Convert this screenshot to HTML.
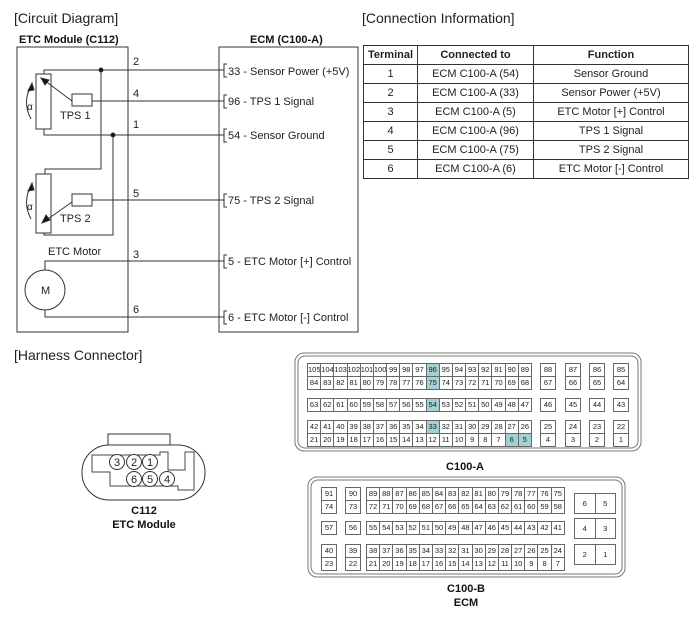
<!DOCTYPE html>
<html><head><meta charset="utf-8"><style>
body{margin:0;background:#fff;}
#w{position:relative;width:699px;height:617px;overflow:hidden;font-family:"Liberation Sans",sans-serif;color:#222;}
svg{position:absolute;left:0;top:0;}
table.g{position:absolute;border-collapse:collapse;table-layout:fixed;font-size:7.5px;background:#fff;}
table.g td{border:1px solid #666;text-align:center;padding:0;height:12px;line-height:12px;overflow:hidden;white-space:nowrap;}
table.g td.h{background:#a3d0d3;}
table.ci{position:absolute;left:363px;top:45px;border-collapse:collapse;width:326px;font-size:11px;}
table.ci td{border:1px solid #333;text-align:center;height:18px;padding:0;}
table.ci tr:first-child td{font-weight:bold;}
</style></head><body><div id="w">
<svg width="699" height="617" font-family="Liberation Sans, sans-serif" fill="none" stroke="#333" stroke-width="1">
<g fill="#222" stroke="none" font-size="14">
<text x="14" y="23">[Circuit Diagram]</text>
<text x="362" y="23">[Connection Information]</text>
<text x="14" y="360">[Harness Connector]</text>
</g>
<g fill="#111" stroke="none" font-size="11" font-weight="bold">
<text x="19" y="43">ETC Module (C112)</text>
<text x="250" y="43">ECM (C100-A)</text>
<text x="465" y="470" text-anchor="middle">C100-A</text>
<text x="466" y="592" text-anchor="middle">C100-B</text>
<text x="466" y="606" text-anchor="middle">ECM</text>
<text x="144" y="514" text-anchor="middle">C112</text>
<text x="144" y="528" text-anchor="middle">ETC Module</text>
</g>
<rect x="17" y="47" width="111" height="285"/>
<rect x="219" y="47" width="139" height="285"/>
<!-- wires -->
<polyline points="44,74 44,70 224,70"/>
<polyline points="92,101 224,101"/>
<polyline points="44,129 44,135 224,135"/>
<polyline points="101,70 101,169 45,169 45,174"/>
<polyline points="113,135 113,235 44,235 44,233"/>
<polyline points="92,200 224,200"/>
<polyline points="45,270 45,261 224,261"/>
<polyline points="45,310 45,317 224,317"/>
<circle cx="101" cy="70" r="2" fill="#111"/>
<circle cx="113" cy="135" r="2" fill="#111"/>
<rect x="36" y="74" width="15" height="55" fill="#fff"/>
<rect x="36" y="174" width="15" height="59" fill="#fff"/>
<rect x="72" y="94" width="20" height="12" fill="#fff"/>
<rect x="72" y="194" width="20" height="12" fill="#fff"/>
<line x1="72" y1="101" x2="44" y2="80"/>
<polygon points="41,78 49,80 45,85" fill="#111"/>
<line x1="72" y1="202" x2="45" y2="221"/>
<polygon points="42,223 46,215 50,220" fill="#111"/>
<path d="M31,119 Q22,102 31,86"/><polygon points="32,83 28,91 34,90" fill="#111"/>
<path d="M31,219 Q22,202 31,186"/><polygon points="32,183 28,191 34,190" fill="#111"/>
<circle cx="45" cy="290" r="20" fill="#fff"/>
<!-- brackets -->
<polyline points="227,64 224,64 224,77 227,77"/>
<polyline points="227,95 224,95 224,108 227,108"/>
<polyline points="227,129 224,129 224,142 227,142"/>
<polyline points="227,194 224,194 224,207 227,207"/>
<polyline points="227,255 224,255 224,268 227,268"/>
<polyline points="227,311 224,311 224,324 227,324"/>
<g fill="#222" stroke="none" font-size="11">
<text x="27" y="110" font-size="10">α</text>
<text x="27" y="210" font-size="10">α</text>
<text x="60" y="119">TPS 1</text>
<text x="60" y="222">TPS 2</text>
<text x="48" y="255">ETC Motor</text>
<text x="41" y="294">M</text>
<text x="133" y="65">2</text><text x="133" y="97">4</text><text x="133" y="128">1</text>
<text x="133" y="197">5</text><text x="133" y="258">3</text><text x="133" y="313">6</text>
<text x="228" y="75">33 - Sensor Power (+5V)</text>
<text x="228" y="105">96 - TPS 1 Signal</text>
<text x="228" y="139">54 - Sensor Ground</text>
<text x="228" y="204">75 - TPS 2 Signal</text>
<text x="228" y="265">5 - ETC Motor [+] Control</text>
<text x="228" y="321">6 - ETC Motor [-] Control</text>
</g>
<!-- connector outlines -->
<rect x="295" y="353" width="346" height="98" rx="9" stroke="#777"/>
<rect x="298" y="356" width="340" height="92" rx="7" stroke="#777"/>
<rect x="308" y="477" width="317" height="100" rx="9" stroke="#777"/>
<rect x="311" y="480" width="311" height="94" rx="7" stroke="#777"/>
<!-- C112 -->
<path d="M108,445 L108,434 L170,434 L170,445" fill="#fff"/>
<rect x="82" y="445" width="123" height="55" rx="27" fill="#fff"/>
<path d="M92,472 L92,455 L160,455 L160,452 L168,452 L168,470 L185,470 L185,452 L194,452 L194,490 L178,490 L178,486 L110,486 L110,472 Z" stroke="#444"/>
<g fill="#fff"><circle cx="117" cy="462" r="7.5"/><circle cx="134" cy="462" r="7.5"/><circle cx="150" cy="462" r="7.5"/><circle cx="134" cy="479" r="7.5"/><circle cx="150" cy="479" r="7.5"/><circle cx="167" cy="479" r="7.5"/></g>
<g fill="#222" stroke="none" font-size="11" text-anchor="middle">
<text x="117" y="466">3</text><text x="134" y="466">2</text><text x="150" y="466">1</text>
<text x="134" y="483">6</text><text x="150" y="483">5</text><text x="167" y="483">4</text>
</g>
</svg>
<table class="ci">
<tr><td style="width:53px">Terminal</td><td style="width:115px">Connected to</td><td>Function</td></tr>
<tr><td>1</td><td>ECM C100-A (54)</td><td>Sensor Ground</td></tr>
<tr><td>2</td><td>ECM C100-A (33)</td><td>Sensor Power (+5V)</td></tr>
<tr><td>3</td><td>ECM C100-A (5)</td><td>ETC Motor [+] Control</td></tr>
<tr><td>4</td><td>ECM C100-A (96)</td><td>TPS 1 Signal</td></tr>
<tr><td>5</td><td>ECM C100-A (75)</td><td>TPS 2 Signal</td></tr>
<tr><td>6</td><td>ECM C100-A (6)</td><td>ETC Motor [-] Control</td></tr>
</table>
<!-- C100-A -->
<table class="g" style="left:307px;top:363px;width:225px"><tr><td>105</td><td>104</td><td>103</td><td>102</td><td>101</td><td>100</td><td>99</td><td>98</td><td>97</td><td class="h">96</td><td>95</td><td>94</td><td>93</td><td>92</td><td>91</td><td>90</td><td>89</td></tr><tr><td>84</td><td>83</td><td>82</td><td>81</td><td>80</td><td>79</td><td>78</td><td>77</td><td>76</td><td class="h">75</td><td>74</td><td>73</td><td>72</td><td>71</td><td>70</td><td>69</td><td>68</td></tr></table>
<table class="g" style="left:307px;top:398px;width:225px"><tr><td>63</td><td>62</td><td>61</td><td>60</td><td>59</td><td>58</td><td>57</td><td>56</td><td>55</td><td class="h">54</td><td>53</td><td>52</td><td>51</td><td>50</td><td>49</td><td>48</td><td>47</td></tr></table>
<table class="g" style="left:307px;top:420px;width:225px"><tr><td>42</td><td>41</td><td>40</td><td>39</td><td>38</td><td>37</td><td>36</td><td>35</td><td>34</td><td class="h">33</td><td>32</td><td>31</td><td>30</td><td>29</td><td>28</td><td>27</td><td>26</td></tr><tr><td>21</td><td>20</td><td>19</td><td>18</td><td>17</td><td>16</td><td>15</td><td>14</td><td>13</td><td>12</td><td>11</td><td>10</td><td>9</td><td>8</td><td>7</td><td class="h">6</td><td class="h">5</td></tr></table>
<table class="g" style="left:540px;top:363px;width:16px"><tr><td>88</td></tr><tr><td>67</td></tr></table>
<table class="g" style="left:565px;top:363px;width:16px"><tr><td>87</td></tr><tr><td>66</td></tr></table>
<table class="g" style="left:589px;top:363px;width:16px"><tr><td>86</td></tr><tr><td>65</td></tr></table>
<table class="g" style="left:613px;top:363px;width:16px"><tr><td>85</td></tr><tr><td>64</td></tr></table>
<table class="g" style="left:540px;top:398px;width:16px"><tr><td>46</td></tr></table>
<table class="g" style="left:565px;top:398px;width:16px"><tr><td>45</td></tr></table>
<table class="g" style="left:589px;top:398px;width:16px"><tr><td>44</td></tr></table>
<table class="g" style="left:613px;top:398px;width:16px"><tr><td>43</td></tr></table>
<table class="g" style="left:540px;top:420px;width:16px"><tr><td>25</td></tr><tr><td>4</td></tr></table>
<table class="g" style="left:565px;top:420px;width:16px"><tr><td>24</td></tr><tr><td>3</td></tr></table>
<table class="g" style="left:589px;top:420px;width:16px"><tr><td>23</td></tr><tr><td>2</td></tr></table>
<table class="g" style="left:613px;top:420px;width:16px"><tr><td>22</td></tr><tr><td>1</td></tr></table>
<!-- C100-B -->
<table class="g" style="left:321px;top:487px;width:16px"><tr><td>91</td></tr><tr><td>74</td></tr></table>
<table class="g" style="left:345px;top:487px;width:16px"><tr><td>90</td></tr><tr><td>73</td></tr></table>
<table class="g" style="left:366px;top:487px;width:199px"><tr><td>89</td><td>88</td><td>87</td><td>86</td><td>85</td><td>84</td><td>83</td><td>82</td><td>81</td><td>80</td><td>79</td><td>78</td><td>77</td><td>76</td><td>75</td></tr><tr><td>72</td><td>71</td><td>70</td><td>69</td><td>68</td><td>67</td><td>66</td><td>65</td><td>64</td><td>63</td><td>62</td><td>61</td><td>60</td><td>59</td><td>58</td></tr></table>
<table class="g" style="left:321px;top:521px;width:16px"><tr><td>57</td></tr></table>
<table class="g" style="left:345px;top:521px;width:16px"><tr><td>56</td></tr></table>
<table class="g" style="left:366px;top:521px;width:199px"><tr><td>55</td><td>54</td><td>53</td><td>52</td><td>51</td><td>50</td><td>49</td><td>48</td><td>47</td><td>46</td><td>45</td><td>44</td><td>43</td><td>42</td><td>41</td></tr></table>
<table class="g" style="left:321px;top:544px;width:16px"><tr><td>40</td></tr><tr><td>23</td></tr></table>
<table class="g" style="left:345px;top:544px;width:16px"><tr><td>39</td></tr><tr><td>22</td></tr></table>
<table class="g" style="left:366px;top:544px;width:199px"><tr><td>38</td><td>37</td><td>36</td><td>35</td><td>34</td><td>33</td><td>32</td><td>31</td><td>30</td><td>29</td><td>28</td><td>27</td><td>26</td><td>25</td><td>24</td></tr><tr><td>21</td><td>20</td><td>19</td><td>18</td><td>17</td><td>16</td><td>15</td><td>14</td><td>13</td><td>12</td><td>11</td><td>10</td><td>9</td><td>8</td><td>7</td></tr></table>
<table class="g" style="left:574px;top:493px;width:42px"><tr><td style="height:19px">6</td><td style="height:19px">5</td></tr></table>
<table class="g" style="left:574px;top:518px;width:42px"><tr><td style="height:19px">4</td><td style="height:19px">3</td></tr></table>
<table class="g" style="left:574px;top:544px;width:42px"><tr><td style="height:19px">2</td><td style="height:19px">1</td></tr></table>
</div></body></html>
